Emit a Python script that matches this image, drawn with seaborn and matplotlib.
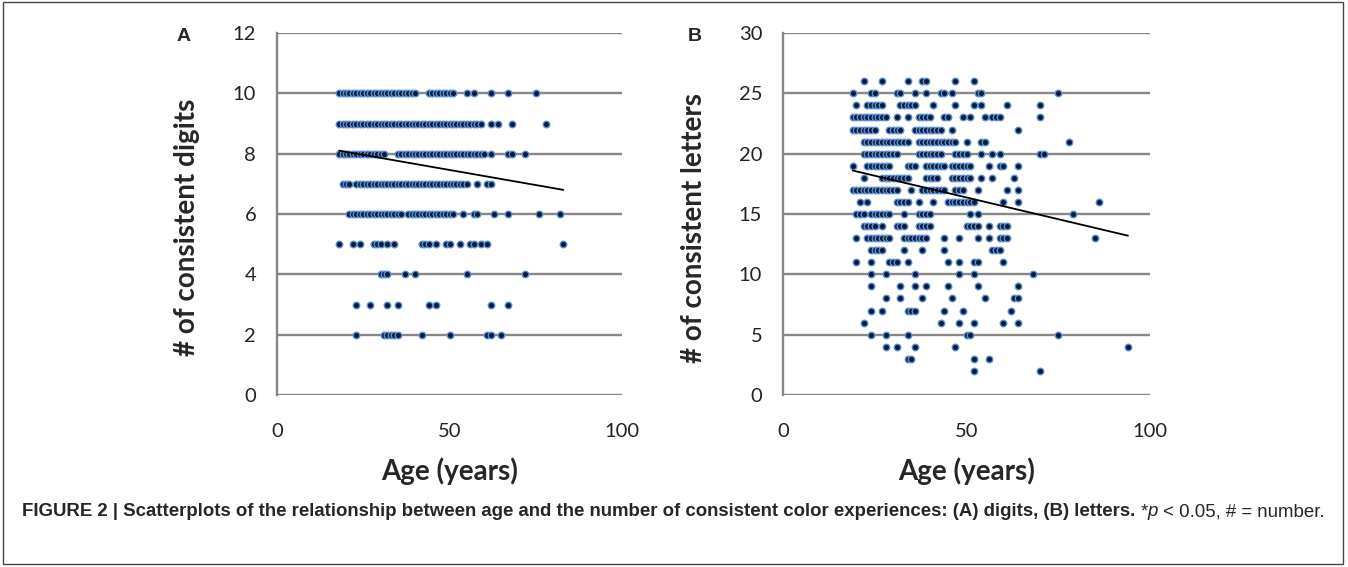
"""Age vs. number of consistent colour experiences (digits / letters)."""

import matplotlib.pyplot as plt
import numpy as np
import pandas as pd
import seaborn as sns
from matplotlib.patches import Rectangle

# panel A: ages of participants at each digit-consistency score
digit_scores = [10, 9, 8, 7, 6, 5, 4, 3, 2]
digit_ages = [
    list(range(18, 41)) + list(range(44, 52)) + [55, 57, 62, 67, 75],
    list(range(18, 60)) + [62, 64, 68, 78],
    list(range(18, 32)) + list(range(35, 61)) + [62, 67, 68, 72],
    [19, 20, 21] + list(range(23, 56)) + [58, 61, 62],
    list(range(21, 37)) + list(range(38, 52)) + [54, 57, 58, 63, 67, 76, 82],
    [18, 22, 24, 28, 29, 30, 32, 34, 42, 43, 44, 46, 49, 50, 53, 56, 57, 59, 61, 83],
    [30, 31, 32, 37, 40, 55, 72],
    [23, 27, 32, 35, 44, 46, 62, 67],
    [23, 31, 32, 33, 34, 35, 42, 50, 61, 62, 65],
]
# linear trend shown in panel A (intercept, slope)
digit_trend = [8.46, -0.020]

# panel B: ages of participants at each letter-consistency score
letter_scores = list(range(26, 1, -1))
letter_ages = [
    [22, 27, 34, 38, 39, 47, 52],
    [19, 24, 25, 31, 32, 36, 39, 43, 44, 46, 53, 54, 75],
    [20] + list(range(23, 28)) + list(range(32, 37)) + [41, 47, 52, 54, 61, 70],
    list(range(19, 29)) + [31, 34, 37, 38, 39, 40, 44, 45, 49, 51, 55, 57, 58, 59, 70],
    list(range(19, 26)) + list(range(29, 33)) + list(range(36, 44)) + [46, 64],
    list(range(22, 35)) + list(range(37, 48)) + [50, 54, 55, 78],
    list(range(22, 32)) + list(range(37, 44)) + [47, 48, 49, 50, 54, 57, 59, 70, 71],
    [19] + list(range(23, 30)) + list(range(34, 37)) + list(range(39, 45))
    + [46, 47, 48, 49, 50, 51, 56, 59, 60, 64],
    [22] + list(range(27, 35)) + [39, 40, 41, 42, 46, 47, 48, 49, 50, 51, 54, 57, 63],
    list(range(19, 32)) + [35] + list(range(38, 45)) + [47, 48, 49, 53, 61, 64],
    [21, 23, 31, 32, 33, 34, 37, 41] + list(range(45, 53)) + [60, 64, 86],
    [20, 21, 22, 24, 25, 26, 27, 28, 29, 33, 37, 38, 39, 40, 51, 53, 79],
    [22, 23, 24, 25, 27, 31, 32, 33, 37, 38, 39, 40, 50, 51, 52, 53, 56, 59, 60, 61],
    [20] + list(range(23, 30)) + list(range(33, 40)) + [44, 48, 53, 56, 59, 60, 61, 85],
    [24, 25, 26, 27, 33, 38, 44, 57, 58, 59],
    [20, 24, 29, 30, 31, 34, 45, 48, 52, 53, 60],
    [24, 28, 36, 48, 52, 68],
    [24, 32, 36, 39, 45, 53, 64],
    [28, 32, 38, 46, 55, 63, 64],
    [24, 27, 34, 35, 36, 44, 49, 62],
    [22, 43, 48, 52, 60, 64],
    [24, 28, 34, 50, 51, 75],
    [28, 31, 36, 47, 94],
    [34, 35, 52, 56],
    [52, 70],
]
letter_trend = [19.97, -0.072]

GRID = "#878787"
DOT = "#0b1a3c"
DOT_EDGE = "#5b8fd0"
LABEL_FONT = ["Lato", "DejaVu Sans"]


def _frame(scores, ages):
    rows = [(a, s) for s, row in zip(scores, ages) for a in row]
    return pd.DataFrame(rows, columns=["age", "score"])


def _panel(ax, df, trend, ymax, ystep, ylabel, letter):
    ax.set_xlim(0, 100)
    ax.set_ylim(0, ymax)
    ax.set_yticks(np.arange(0, ymax + 1, ystep))
    ax.set_xticks([0, 50, 100])
    ax.grid(axis="y", color=GRID, linewidth=1.7, zorder=0)
    ax.grid(axis="x", visible=False)
    for side in ["top", "right", "bottom"]:
        ax.spines[side].set_visible(False)
    ax.spines["left"].set_color(GRID)
    ax.spines["left"].set_linewidth(1.7)
    ax.tick_params(axis="y", length=5, width=1.7, color=GRID, pad=10, labelsize=14.5)
    ax.tick_params(axis="x", length=0, pad=20, labelsize=14.5)
    for lab in ax.get_xticklabels() + ax.get_yticklabels():
        lab.set_family(LABEL_FONT)
        lab.set_color("#222222")

    sns.scatterplot(data=df, x="age", y="score", ax=ax, color=DOT, edgecolor=DOT_EDGE,
                    s=22, linewidth=1.0, zorder=3, legend=False)

    span = np.array([df["age"].min(), df["age"].max()])
    fit = pd.DataFrame({"age": span, "score": trend[0] + trend[1] * span})
    sns.lineplot(data=fit, x="age", y="score", ax=ax, color="black", linewidth=1.3, zorder=4)

    ax.set_xlabel("Age (years)", fontsize=20, fontweight="bold", family=LABEL_FONT)
    ax.set_ylabel(ylabel, fontsize=20, fontweight="bold", family=LABEL_FONT)
    ax.xaxis.set_label_coords(0.5, -0.172)
    ax.text(-0.27, 0.99, letter, transform=ax.transAxes, ha="center", va="center",
            fontsize=14, fontweight="bold", family=["Liberation Sans", "DejaVu Sans"])


def _caption(fig, x, y, parts):
    renderer = fig.canvas.get_renderer()
    for text, kw in parts:
        t = fig.text(x, y, text, ha="left", va="center", fontsize=13.4,
                     family=["Liberation Sans", "DejaVu Sans"], **kw)
        x += t.get_window_extent(renderer).width / fig.bbox.width


sns.set_style("white")
plt.rcParams["font.family"] = ["Lato", "DejaVu Sans"]

fig = plt.figure(figsize=(13.48, 5.67), dpi=100)
W, H = 1348, 567
ax_a = fig.add_axes([277 / W, 1 - 395 / H, 345 / W, 362 / H])
ax_b = fig.add_axes([783 / W, 1 - 395 / H, 367 / W, 362 / H])

_panel(ax_a, _frame(digit_scores, digit_ages), digit_trend, 12, 2, "# of consistent digits", "A")
ax_a.yaxis.set_label_coords(-0.222, 0.464)
ax_a.texts[-1].set_position((-0.27, 0.99))

_panel(ax_b, _frame(letter_scores, letter_ages), letter_trend, 30, 5, "# of consistent letters", "B")
ax_b.yaxis.set_label_coords(-0.207, 0.461)
ax_b.texts[-1].set_position((-0.24, 0.99))

fig.patches.append(Rectangle((3 / W, 1 - 564 / H), 1340 / W, 562 / H, transform=fig.transFigure,
                             fill=False, edgecolor="#444444", linewidth=1.0))

_caption(fig, 22 / W, 1 - 512 / H, [
    ("FIGURE 2 | Scatterplots of the relationship between age and the number of consistent color "
     "experiences: (A) digits, (B) letters. ", dict(fontweight="bold")),
    ("*", dict()),
    ("p", dict(style="italic")),
    (" < 0.05, # = number.", dict()),
])

fig.savefig("out.png", dpi=100)
plt.close(fig)
